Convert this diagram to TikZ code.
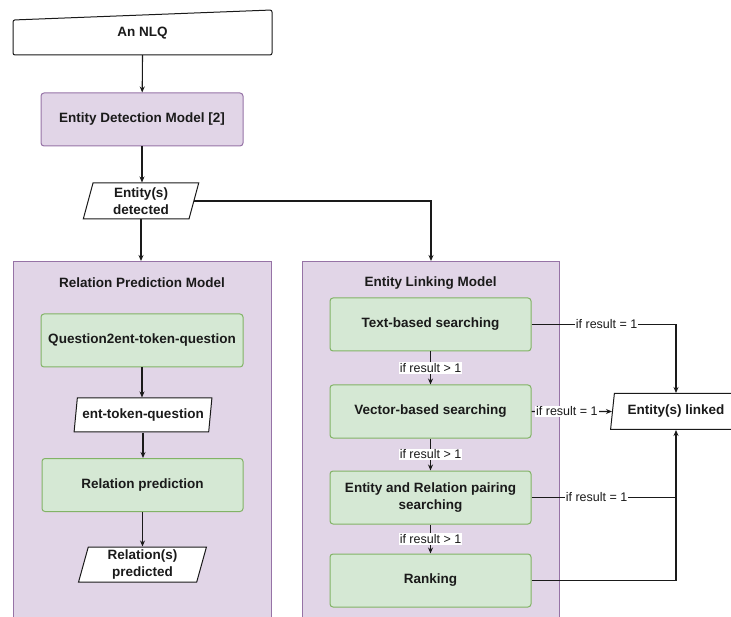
\documentclass[tikz,border=0pt]{standalone}
\usepackage{fontspec}
\setmainfont{Liberation Sans}
\usetikzlibrary{shapes.geometric,arrows.meta}

\definecolor{modelfill}{HTML}{E1D5E7}
\definecolor{modelline}{HTML}{9673A6}
\definecolor{stepfill}{HTML}{D5E8D4}
\definecolor{stepline}{HTML}{82B366}
\definecolor{ink}{HTML}{1A1A1A}

\tikzset{
    boldtext/.style={font=\bfseries\fontsize{13.5}{16.5}\selectfont, text=ink, align=center},
    modelbox/.style={boldtext, draw=modelline, fill=modelfill, line width=1pt, rounded corners=3pt},
    container/.style={draw=modelline, fill=modelfill, line width=1pt, anchor=north west},
    stepbox/.style={boldtext, draw=stepline, fill=stepfill, line width=1pt, rounded corners=3pt,
        minimum width=201, minimum height=53},
    iobox/.style={boldtext, draw=ink, fill=white, line width=1pt, trapezium, trapezium stretches=true,
        trapezium left angle=78, trapezium right angle=102, inner xsep=2pt, inner ysep=1pt},
    lbl/.style={font=\fontsize{12.5}{14}\selectfont, text=ink, fill=white, inner sep=1pt},
    arr/.style={draw=ink, line width=1.1pt, -{Stealth[length=6pt,width=5pt]}},
    line/.style={draw=ink, line width=1.1pt}
}

\begin{document}
\begin{tikzpicture}[x=1pt, y=-1pt]
    \useasboundingbox (0,0) rectangle (731,617);
    \clip (0,0) rectangle (731,617);

    % Input question and entity detection
    \draw[ink, fill=white, line width=1pt, rounded corners=2pt] (13,20) -- (272,10) -- (272,55) -- (13,55) -- cycle;
    \node[boldtext, minimum height=44] (nlq) at (142.5,33) {An NLQ};
    \node[modelbox, minimum width=202, minimum height=53] (detect) at (142,119.5) {Entity Detection Model [2]};
    \node[iobox, minimum width=116, minimum height=36] (detected) at (141,201) {Entity(s)\\detected};

    % The two model containers
    \node[container, minimum width=258, minimum height=370] (rpm) at (13,261) {};
    \node[container, minimum width=257, minimum height=370] (elm) at (302,261) {};
    \node[boldtext] (rpmtitle) at (142,283) {Relation Prediction Model};
    \node[boldtext] (elmtitle) at (430.5,283) {Entity Linking Model};

    % Relation prediction steps
    \node[stepbox, minimum width=202] (q2e) at (142,340.5) {Question2ent-token-question};
    \node[iobox, minimum width=138, minimum height=34] (enttok) at (143,415) {ent-token-question};
    \node[stepbox] (relpred) at (142.5,485) {Relation prediction};
    \node[iobox, minimum width=129, minimum height=35] (relout) at (142.5,564.5) {Relation(s)\\predicted};

    % Entity linking steps
    \node[stepbox] (tbs) at (430.5,324.5) {Text-based searching};
    \node[stepbox] (vbs) at (430.5,411.5) {Vector-based searching};
    \node[stepbox] (ers) at (430.5,497.5) {Entity and Relation pairing\\searching};
    \node[stepbox] (rank) at (430.5,580.5) {Ranking};
    \node[iobox, minimum width=131, minimum height=36] (linked) at (676,411.5) {Entity(s) linked};

    % Main flow
    \draw[arr] (nlq.south) -- (detect);
    \draw[arr] (detect) -- (detect.south |- detected.north);
    \draw[arr] (detected.south) -- (detected.south |- rpm.north);
    \draw[arr] (detected.east) -| (elm.north);
    \draw[arr] (q2e) -- (q2e.south |- enttok.north);
    \draw[arr] (enttok.south) -- (enttok.south |- relpred.north);
    \draw[arr] (relpred) -- (relpred.south |- relout.north);

    % Linking cascade
    \foreach \a/\b in {tbs/vbs, vbs/ers, ers/rank} {
        \draw[arr] (\a) -- node[lbl] {if result > 1} (\b);
    }
    \draw[arr] (tbs.east) -- node[lbl, pos=0.52] {if result = 1} (tbs.east -| linked.north) -- (linked.north);
    \draw[arr] (vbs.east) -- node[lbl, pos=0.44] {if result = 1} (linked.west);
    \draw[line] (ers.east) -- node[lbl, pos=0.45] {if result = 1} (ers.east -| linked.south);
    \draw[arr] (rank.east) -| (linked.south);
\end{tikzpicture}
\end{document}
